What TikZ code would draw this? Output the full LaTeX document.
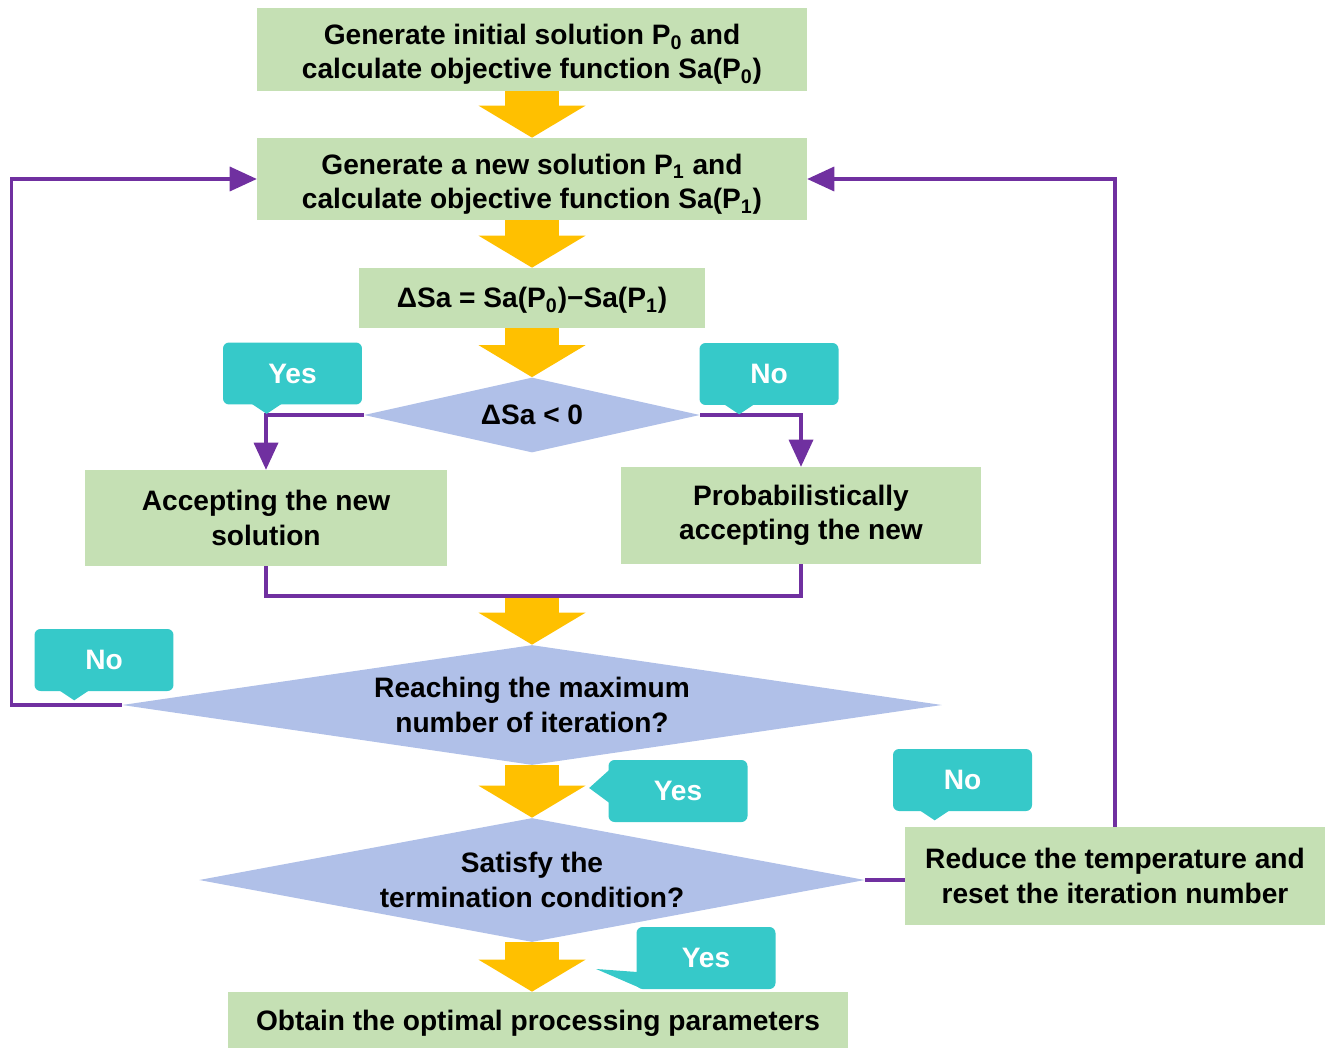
\documentclass[tikz,border=0pt]{standalone}
\usepackage{fontspec}
\setmainfont{Liberation Sans}
\usepackage{tikz}
\usetikzlibrary{shapes.geometric,arrows.meta,calc}
\definecolor{boxgreen}{HTML}{C5E0B4}
\definecolor{condblue}{HTML}{B0C0E8}
\definecolor{tagteal}{HTML}{36C9C9}
\definecolor{flowpurple}{HTML}{7030A0}
\definecolor{arrowgold}{HTML}{FFC000}
\newcommand{\idx}[1]{\smash{\textsubscript{#1}}}
\newcommand{\padtop}[1]{\rule{0pt}{#1}}
\tikzstyle{box} = [fill=boxgreen, align=center, inner sep=0pt, font=\fontsize{16}{19.5}\selectfont\bfseries]
\tikzstyle{cond} = [diamond, fill=condblue, align=center, inner sep=0pt, font=\fontsize{16}{19.5}\selectfont\bfseries]
\tikzstyle{tag} = [fill=tagteal, rounded corners=0.12cm, text=white, minimum width=2.78cm, minimum height=1.24cm, font=\fontsize{16}{19.5}\selectfont\bfseries]
\tikzstyle{flow} = [draw=flowpurple, line width=0.07cm, -{Triangle[width=0.5cm,length=0.54cm,line width=0pt]}]
\tikzstyle{flowline} = [draw=flowpurple, line width=0.07cm]
\tikzstyle{bigarrow} = [draw=arrowgold, line width=1.08cm, -{Triangle[width=2.14cm,length=0.64cm,line width=0pt,fill=arrowgold]}]

\begin{document}
\begin{tikzpicture}[x=0.02cm, y=-0.02cm]
        \useasboundingbox (0,0) rectangle (1327,1047);

        \node[box, minimum width=11cm, minimum height=1.66cm] at (532,49.5) (b1) {\padtop{17.4pt}Generate initial solution P\idx{0} and\\calculate objective function Sa(P\idx{0})};
        \node[box, minimum width=11cm, minimum height=1.64cm] at (532,179) (b2) {\padtop{17.4pt}Generate a new solution P\idx{1} and\\calculate objective function Sa(P\idx{1})};
        \node[box, minimum width=6.92cm, minimum height=1.2cm] at (532,298) (b3) {\padtop{14.2pt}ΔSa = Sa(P\idx{0})−Sa(P\idx{1})};
        \node[cond, aspect=4.4, minimum width=6.72cm, minimum height=1.5cm] at (532,415) (d1) {ΔSa < 0};
        \node[box, minimum width=7.24cm, minimum height=1.92cm] at (266,518) (b4) {Accepting the new\\solution};
        \node[box, minimum width=7.2cm, minimum height=1.94cm] at (801,515.5) (b5) {Probabilistically\\accepting the new};
        \coordinate (merge) at (532,596);
        \node[cond, aspect=6.83, minimum width=16.4cm, minimum height=2.4cm] at (532,705) (d2) {Reaching the maximum\\number of iteration?};
        \node[cond, aspect=5.37, minimum width=13.32cm, minimum height=2.48cm] at (532,880) (d3) {Satisfy the\\termination condition?};
        \node[box, minimum width=8.4cm, minimum height=1.96cm] at (1115,876) (b6) {Reduce the temperature and\\reset the iteration number};
        \node[box, minimum width=12.42cm, minimum height=1.24cm] at (538,1023) (b7) {Obtain the optimal processing parameters};

        \draw[bigarrow] (b1) -- (b2);
        \draw[bigarrow] (b2) -- (b3);
        \draw[bigarrow] (b3) -- (d1);
        \draw[bigarrow] (merge) -- (d2);
        \draw[bigarrow] (d2) -- (d3);
        \draw[bigarrow] (d3) -- (d3 |- b7.north);

        \draw[flow] (d1.west) -| (b4.north);
        \draw[flow] (d1.east) -| (b5.north);
        \draw[flowline] (b4.south) |- (merge) -| (b5.south);
        \draw[flow] (d2.west) -- ++(-110,0) |- (b2.west);
        \draw[flow] (b6.north) |- (b2.east);
        \draw[flowline] (d3.east) -- (d3.east -| b6.west);

        \node[tag] at (292.5,373.5) (tYes1) {Yes};
        \node[tag] at (769,374) (tNo1) {No};
        \node[tag] at (104,660) (tNo2) {No};
        \node[tag] at (678,791) (tYes2) {Yes};
        \node[tag] at (962.5,780) (tNo3) {No};
        \node[tag] at (706,958) (tYes3) {Yes};

        \fill[tagteal] ($(tYes1.south west)+(29,-1)$) -- ++(15,10) -- ++(15,-10) -- cycle;
        \fill[tagteal] ($(tNo1.south west)+(25,-1)$) -- ++(15,10) -- ++(15,-10) -- cycle;
        \fill[tagteal] ($(tNo2.south west)+(25,-1)$) -- ++(15,10) -- ++(15,-10) -- cycle;
        \fill[tagteal] ($(tNo3.south west)+(27,-1)$) -- ++(15,10) -- ++(15,-10) -- cycle;
        \fill[tagteal] ($(tYes2.west)+(1,-21)$) -- ($(tYes2.west)+(-19,-3)$) -- ($(tYes2.west)+(4,14)$) -- cycle;
        \fill[tagteal] ($(tYes3.west)+(1,14)$) -- ($(tYes3.west)+(-40,11)$) -- ($(tYes3.west)+(4,30)$) -- cycle;
\end{tikzpicture}
\end{document}
